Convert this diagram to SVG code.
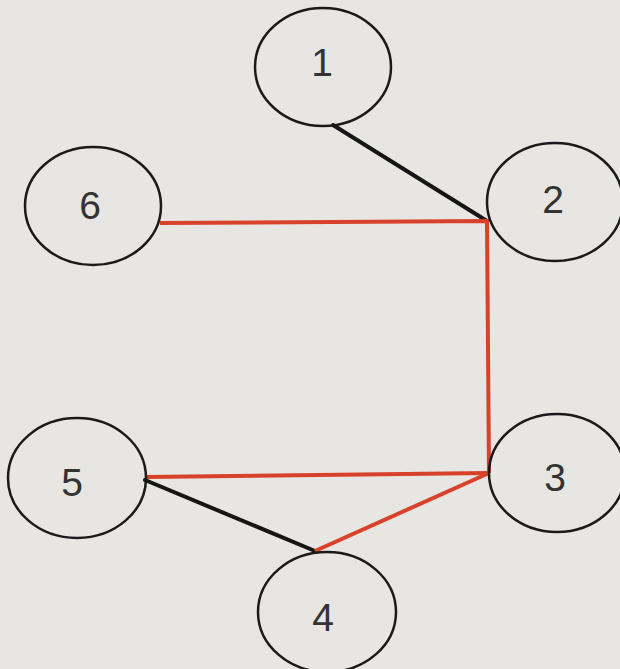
<svg xmlns="http://www.w3.org/2000/svg" width="620" height="669" viewBox="0 0 620 669">
<style>
.node ellipse{fill:none;stroke:#1a1a1a;stroke-width:2.5}
.node text{font-family:"Liberation Sans",Arial,sans-serif;font-size:39px;fill:#333;text-anchor:middle}
.blk{stroke:#151515;stroke-width:4;fill:none;stroke-linecap:round}
.red{stroke:#d8412a;stroke-width:4;fill:none;stroke-linejoin:miter}
</style>
<rect width="620" height="669" fill="#e8e6e2"/>
<g id="connectors">
<line class="blk" x1="333" y1="125" x2="487" y2="221"/>
<line class="blk" x1="145" y1="480" x2="315" y2="551"/>
<polyline class="red" points="160,223 487,221 489,473"/>
<line class="red" x1="145" y1="477" x2="489" y2="473"/>
<line class="red" x1="489" y1="473" x2="315" y2="551"/>
</g>
<g id="node1" class="node"><ellipse cx="323" cy="67" rx="68" ry="59"/><text x="322" y="76">1</text></g>
<g id="node2" class="node"><ellipse cx="555" cy="202" rx="68" ry="59"/><text x="553" y="213">2</text></g>
<g id="node3" class="node"><ellipse cx="557" cy="473" rx="68" ry="59"/><text x="555" y="491">3</text></g>
<g id="node4" class="node"><ellipse cx="327" cy="612" rx="69" ry="60"/><text x="323" y="631">4</text></g>
<g id="node5" class="node"><ellipse cx="77" cy="478" rx="69" ry="60"/><text x="72" y="496">5</text></g>
<g id="node6" class="node"><ellipse cx="93" cy="206" rx="68" ry="59"/><text x="90" y="219">6</text></g>
</svg>
